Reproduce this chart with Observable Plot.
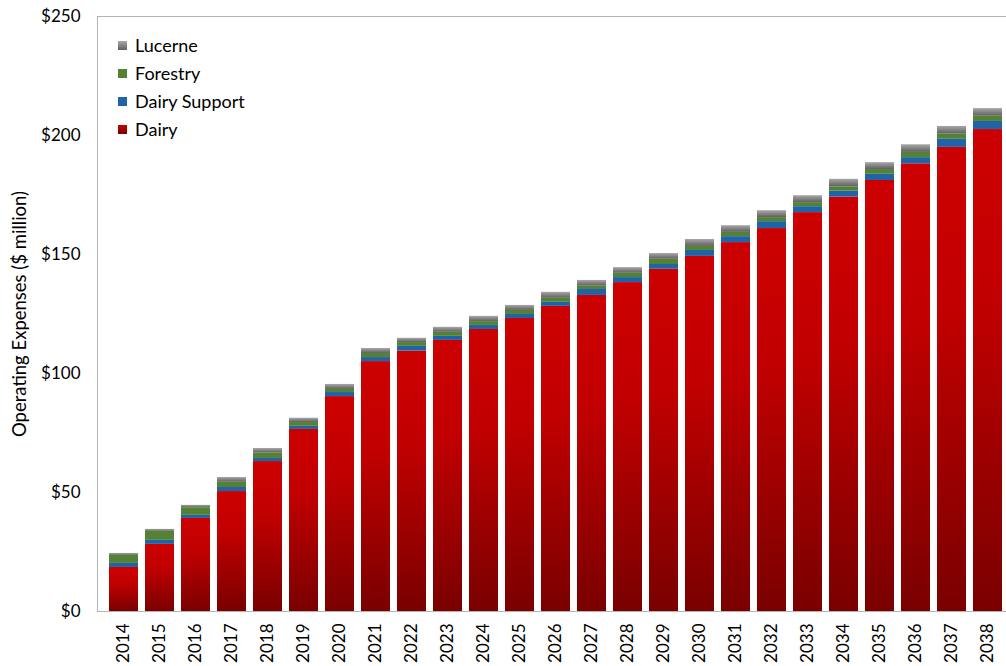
<!DOCTYPE html>
<html>
<head>
<meta charset="utf-8">
<script src="https://cdn.jsdelivr.net/npm/d3@7"></script>
<script src="https://cdn.jsdelivr.net/npm/@observablehq/plot@0.6"></script>
<style>
  body { margin: 0; background: #fff; }
  #wrap { position: relative; width: 1006px; height: 666px; overflow: hidden; font-family: Lato, sans-serif; }
  .legend { position: absolute; left: 118px; top: 31px; font-size: 18px; color: #000; }
  .legend .row { display: flex; align-items: center; height: 28px; }
  .legend .sw { width: 9px; height: 9px; margin-right: 8px; }
</style>
</head>
<body>
<div id="wrap"></div>
<script>
// Operating expenses by activity, $ million
const years = ["2014", "2015", "2016", "2017", "2018", "2019", "2020", "2021", "2022", "2023", "2024", "2025", "2026",
  "2027", "2028", "2029", "2030", "2031", "2032", "2033", "2034", "2035", "2036", "2037", "2038"];
const dairy = [18.5, 28.2, 39.1, 50.4, 63.0, 76.5, 90.3, 105.0, 109.4, 113.9, 118.5, 123.1, 128.2,
  132.8, 138.2, 143.8, 149.2, 155.0, 160.9, 167.6, 174.1, 181.1, 188.1, 195.0, 202.5];
const dairySupport = [1.7, 1.7, 1.3, 1.7, 1.3, 1.3, 1.7, 1.7, 2.0, 1.7, 1.7, 1.7, 1.7,
  2.5, 2.1, 2.0, 2.5, 2.5, 2.9, 2.5, 2.5, 2.6, 2.6, 3.4, 3.4];
const forestry = [3.4, 3.8, 3.2, 2.2, 2.3, 1.6, 1.3, 1.7, 1.6, 1.7, 1.6, 1.7, 1.7,
  1.4, 1.8, 2.2, 1.7, 1.8, 1.7, 1.7, 1.8, 2.0, 2.2, 2.2, 2.2];
const lucerne = [0.8, 0.8, 1.0, 2.0, 1.9, 1.8, 2.1, 2.1, 1.8, 2.1, 2.2, 2.1, 2.5,
  2.4, 2.4, 2.4, 2.9, 2.8, 2.9, 2.9, 3.2, 2.9, 3.2, 3.2, 3.2];
const seriesNames = ["Dairy", "Dairy Support", "Forestry", "Lucerne"];
const seriesValues = [dairy, dairySupport, forestry, lucerne];
const yTicks = [0, 50, 100, 150, 200, 250];
const yLabel = "Operating Expenses ($ million)";

// Fills: gradients for Dairy and Lucerne, flat colours for the others
const fills = ["url(#gradDairy)", "#1F64A8", "#548235", "url(#gradLucerne)"];
const legendFills = [
  "linear-gradient(#CC0000, #7A0000)", "#1F64A8", "#548235", "linear-gradient(#A8A8A8, #606060)"
];

const rows = [];
seriesNames.forEach((s, si) => {
  years.forEach((y, i) => rows.push({year: y, series: s, value: seriesValues[si][i]}));
});

const chart = Plot.plot({
  width: 1006,
  height: 666,
  marginLeft: 97,
  marginRight: -8,
  marginTop: 16,
  marginBottom: 55,
  style: {fontFamily: "Lato, sans-serif", fontSize: "17px", color: "#000", background: "#fff", overflow: "visible"},
  x: {type: "band", domain: years, paddingInner: 0.2, paddingOuter: 0.1},
  y: {domain: [0, 250]},
  color: {domain: seriesNames, range: fills},
  marks: [
    Plot.barY(rows, {x: "year", y: "value", fill: "series", z: "series", order: seriesNames}),
    Plot.frame({stroke: "#B4B4B4"}),
    Plot.axisY({
      ticks: yTicks, tickFormat: d => "$" + d, tickSize: 0, tickPadding: 17,
      label: yLabel, labelAnchor: "center", labelArrow: "none", labelOffset: 85
    }),
    Plot.axisX({tickRotate: -90, tickSize: 0, tickPadding: 12, label: null})
  ]
});

// Slightly larger axis title
d3.select(chart).selectAll('[aria-label="y-axis label"]').style("font-size", "18.5px");

// Gradient definitions referenced by the bar fills
const defs = d3.create("svg:defs");
const gd = defs.append("linearGradient").attr("id", "gradDairy").attr("x1", 0).attr("y1", 0).attr("x2", 0).attr("y2", 1);
gd.append("stop").attr("offset", "0%").attr("stop-color", "#CC0000");
gd.append("stop").attr("offset", "35%").attr("stop-color", "#C20000");
gd.append("stop").attr("offset", "100%").attr("stop-color", "#7A0000");
const gl = defs.append("linearGradient").attr("id", "gradLucerne").attr("x1", 0).attr("y1", 0).attr("x2", 0).attr("y2", 1);
gl.append("stop").attr("offset", "0%").attr("stop-color", "#A8A8A8");
gl.append("stop").attr("offset", "100%").attr("stop-color", "#606060");
chart.insertBefore(defs.node(), chart.firstChild);

const wrap = document.getElementById("wrap");
wrap.appendChild(chart);

// Legend drawn inside the plot, top series first
const legend = d3.select(wrap).append("div").attr("class", "legend");
[3, 2, 1, 0].forEach(i => {
  const row = legend.append("div").attr("class", "row");
  row.append("span").attr("class", "sw").style("background", legendFills[i]);
  row.append("span").text(seriesNames[i]);
});
</script>
</body>
</html>
